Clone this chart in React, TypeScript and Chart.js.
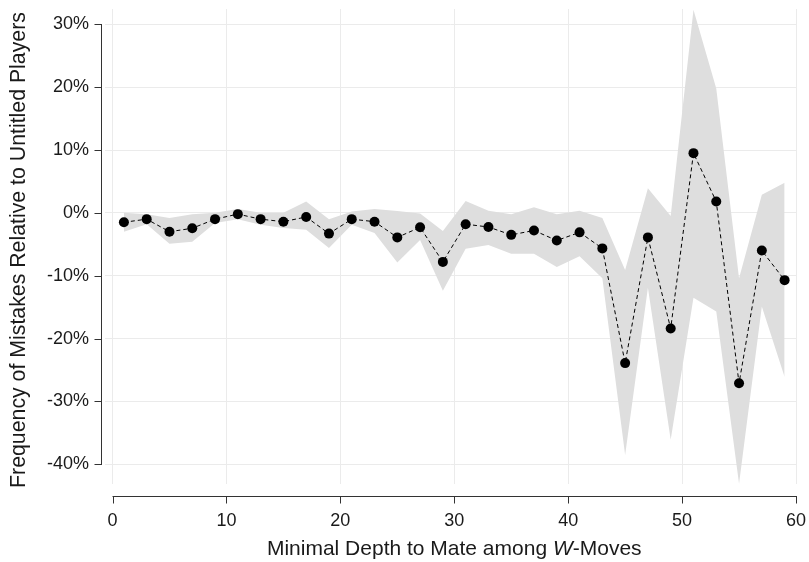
import React, { useEffect, useRef } from 'react';
import { Chart, registerables } from 'chart.js';

Chart.register(...registerables);

// ---- data ----
const depth = [1, 3, 5, 7, 9, 11, 13, 15, 17, 19, 21, 23, 25, 27, 29, 31, 33, 35, 37, 39, 41, 43, 45, 47, 49, 51, 53, 55, 57, 59];
const relFreq = [-1.5, -1.0, -3.0, -2.45, -1.0, -0.2, -1.0, -1.4, -0.65, -3.3, -1.0, -1.4, -3.9, -2.3, -7.8, -1.8, -2.25, -3.5, -2.8, -4.4, -3.1, -5.65, -23.9, -3.9, -18.4, 9.5, 1.8, -27.1, -6.0, -10.7];
const upperCI = [0.0, -0.2, -0.8, -0.2, 0.0, 0.6, 0.0, 0.0, 1.8, -1.0, 0.2, 0.6, 0.3, -0.1, -2.9, 1.9, 0.35, -0.2, 0.9, -0.2, 0.35, -0.8, -9.1, 3.9, -0.5, 32.3, 19.8, -10.4, 2.9, 4.8];
const lowerCI = [-3.0, -1.8, -4.9, -4.6, -1.6, -1.0, -1.9, -2.4, -2.7, -5.6, -1.9, -3.2, -7.9, -4.3, -12.4, -5.7, -5.1, -6.5, -6.5, -8.6, -6.9, -10.4, -38.5, -11.9, -36.1, -13.5, -15.7, -43.1, -14.9, -26.1];
const xTicks = [0, 10, 20, 30, 40, 50, 60];
const yTicks = [-40, -30, -20, -10, 0, 10, 20, 30];
const xTitleParts = [
  { text: 'Minimal Depth to Mate among ', italic: false },
  { text: 'W', italic: true },
  { text: '-Moves', italic: false },
];
const yTitle = 'Frequency of Mistakes Relative to Untitled Players';

const FONT = '"Liberation Sans", Arial, Helvetica, sans-serif';
const TEXT = '#1a1a1a';
const AXIS = '#333333';

const offsetAxes = {
  id: 'offsetAxes',
  afterDraw(chart: any) {
    const { ctx, scales, chartArea } = chart;
    const xs = scales.x;
    const ys = scales.y;
    ctx.save();
    ctx.strokeStyle = AXIS;
    ctx.lineWidth = 1;
    // y axis line (offset to the left of the panel)
    const ax = Math.round(chartArea.left - 4) + 0.5;
    const yTop = ys.getPixelForValue(yTicks[yTicks.length - 1]);
    const yBot = ys.getPixelForValue(yTicks[0]);
    ctx.beginPath();
    ctx.moveTo(ax, yTop);
    ctx.lineTo(ax, yBot);
    yTicks.forEach((v) => {
      const p = Math.round(ys.getPixelForValue(v)) + 0.5;
      ctx.moveTo(ax + 0.5, p);
      ctx.lineTo(ax - 7, p);
    });
    ctx.stroke();
    // x axis line (offset below the panel)
    const ay = Math.round(chartArea.bottom + 12) + 0.5;
    const xL = xs.getPixelForValue(xTicks[0]);
    const xR = xs.getPixelForValue(xTicks[xTicks.length - 1]);
    ctx.beginPath();
    ctx.moveTo(xL, ay);
    ctx.lineTo(xR, ay);
    xTicks.forEach((v) => {
      const p = Math.round(xs.getPixelForValue(v)) + 0.5;
      ctx.moveTo(p, ay - 0.5);
      ctx.lineTo(p, ay + 7);
    });
    ctx.stroke();

    // x title with italic W
    ctx.fillStyle = TEXT;
    ctx.textBaseline = 'middle';
    const fontN = `21px ${FONT}`;
    const fontI = `italic 21px ${FONT}`;
    let total = 0;
    xTitleParts.forEach((p) => {
      ctx.font = p.italic ? fontI : fontN;
      total += ctx.measureText(p.text).width;
    });
    let cx = (xL + xR) / 2 - total / 2;
    ctx.textAlign = 'left';
    xTitleParts.forEach((p) => {
      ctx.font = p.italic ? fontI : fontN;
      ctx.fillText(p.text, cx, 549);
      cx += ctx.measureText(p.text).width;
    });

    // y title
    ctx.translate(19, 250);
    ctx.rotate(-Math.PI / 2);
    ctx.font = `21.3px ${FONT}`;
    ctx.textAlign = 'center';
    ctx.fillText(yTitle, 0, 0);
    ctx.restore();
  },
};

const zeroPad = (s: any) => {
  s.paddingLeft = 0;
  s.paddingRight = 0;
  s.paddingTop = 0;
  s.paddingBottom = 0;
};

export default function App() {
  const ref = useRef<HTMLCanvasElement | null>(null);

  useEffect(() => {
    if (!ref.current) return;
    const toPts = (arr: number[]) => depth.map((d, i) => ({ x: d, y: arr[i] }));
    const chart = new Chart(ref.current, {
      type: 'line',
      data: {
        datasets: [
          {
            label: 'Relative frequency',
            data: toPts(relFreq),
            borderColor: '#000000',
            borderWidth: 1,
            borderDash: [4, 3],
            pointRadius: 5,
            pointBackgroundColor: '#000000',
            pointBorderColor: '#000000',
            pointBorderWidth: 0,
            tension: 0,
            fill: false,
            order: 0,
          },
          {
            label: 'Upper',
            data: toPts(upperCI),
            borderWidth: 0,
            borderColor: 'rgba(0,0,0,0)',
            pointRadius: 0,
            backgroundColor: '#dedede',
            fill: false,
            tension: 0,
            order: 1,
          },
          {
            label: 'Lower',
            data: toPts(lowerCI),
            borderWidth: 0,
            borderColor: 'rgba(0,0,0,0)',
            pointRadius: 0,
            backgroundColor: '#dedede',
            fill: 1,
            tension: 0,
            order: 2,
          },
        ],
      },
      options: {
        responsive: false,
        animation: false,
        layout: { padding: { left: 0, top: 9, right: 13, bottom: 0 } },
        plugins: {
          legend: { display: false },
          tooltip: { enabled: false },
        },
        scales: {
          x: {
            type: 'linear',
            min: -0.66,
            max: 60,
            afterBuildTicks: (s: any) => {
              s.ticks = xTicks.map((v) => ({ value: v }));
            },
            afterFit: (s: any) => {
              s.height = 78;
              zeroPad(s);
            },
            grid: { color: '#ebebeb', lineWidth: 1, drawTicks: false },
            border: { display: false },
            ticks: {
              padding: 26,
              color: TEXT,
              font: { family: FONT, size: 18 },
              maxRotation: 0,
              autoSkip: false,
            },
          },
          y: {
            type: 'linear',
            min: -43.13,
            max: 32.43,
            afterBuildTicks: (s: any) => {
              s.ticks = yTicks.map((v) => ({ value: v }));
            },
            afterFit: (s: any) => {
              s.width = 105;
              zeroPad(s);
            },
            grid: { color: '#ebebeb', lineWidth: 1, drawTicks: false },
            border: { display: false },
            ticks: {
              padding: 16,
              color: TEXT,
              font: { family: FONT, size: 18 },
              autoSkip: false,
              callback: (v: any) => `${v}%`,
            },
          },
        },
      },
      plugins: [offsetAxes],
    });
    return () => chart.destroy();
  }, []);

  return (
    <div style={{ position: 'fixed', left: 0, top: 0, width: 809, height: 562, background: '#ffffff' }}>
      <canvas ref={ref} width={809} height={562} style={{ display: 'block', width: 809, height: 562 }} />
    </div>
  );
}
